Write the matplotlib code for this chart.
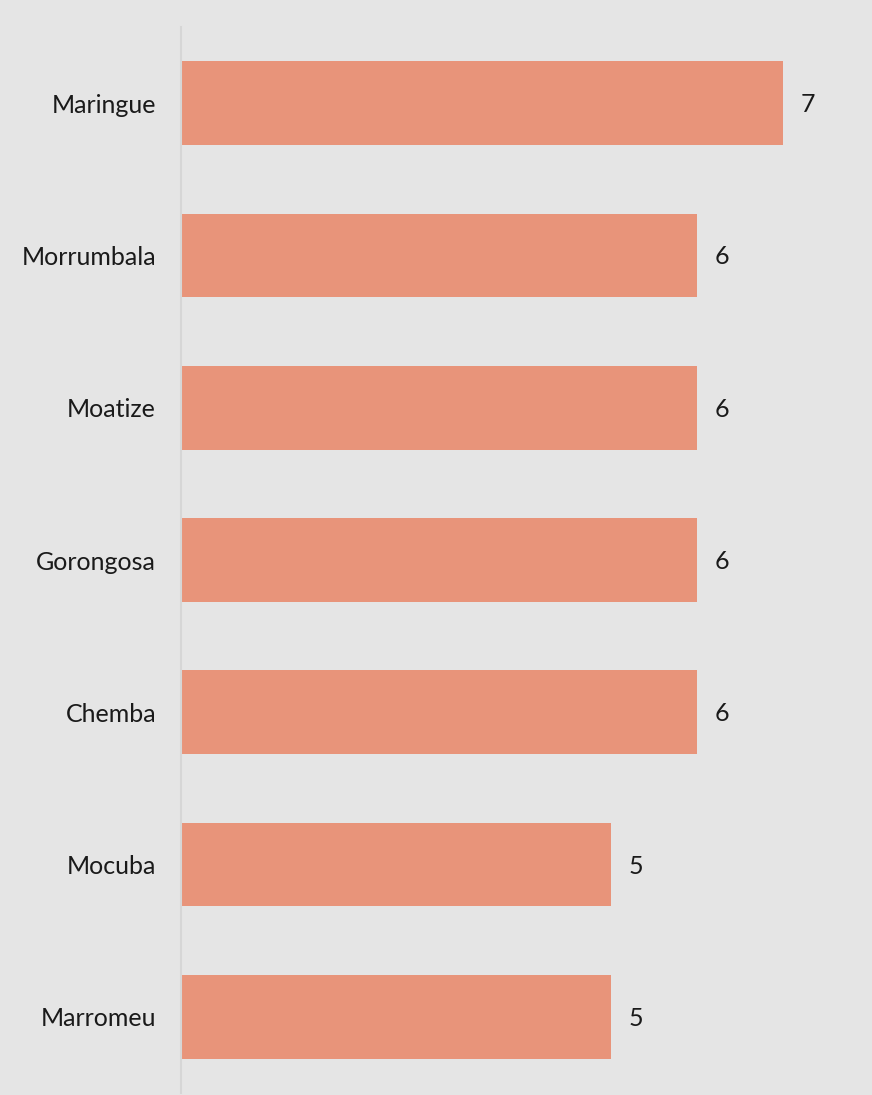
import matplotlib.pyplot as plt

# Districts and counts, top to bottom
districts = ['Maringue', 'Morrumbala', 'Moatize', 'Gorongosa', 'Chemba', 'Mocuba', 'Marromeu']
counts = [7, 6, 6, 6, 6, 5, 5]

bg = '#E5E5E5'
bar_color = '#E8947A'

plt.rcParams['font.family'] = ['Lato', 'DejaVu Sans']

fig = plt.figure(figsize=(8.72, 10.95), dpi=100, facecolor=bg)
ax = fig.add_axes([181 / 872, 2 / 1095, 1 - 181 / 872, 1066 / 1095])
ax.set_facecolor(bg)

pos = list(range(len(districts)))
ax.barh(pos, counts, height=0.55, color=bar_color)

ax.set_ylim(len(districts) - 0.5, -0.5)
ax.set_xlim(0, 8.03)
ax.set_yticks(pos)
ax.set_yticklabels(districts, fontsize=18, color='#1a1a1a')
ax.tick_params(axis='y', length=0, pad=18)
ax.set_xticks([])

for s in ['top', 'right', 'bottom']:
    ax.spines[s].set_visible(False)
ax.spines['left'].set_color('#D6D6D6')
ax.spines['left'].set_linewidth(1.5)

# value labels next to each bar
for p, c in zip(pos, counts):
    ax.text(c + 0.2, p + 0.01, str(c), va='center', ha='left', fontsize=18, color='#1a1a1a')

fig.savefig('out.png', dpi=100, facecolor=bg)
